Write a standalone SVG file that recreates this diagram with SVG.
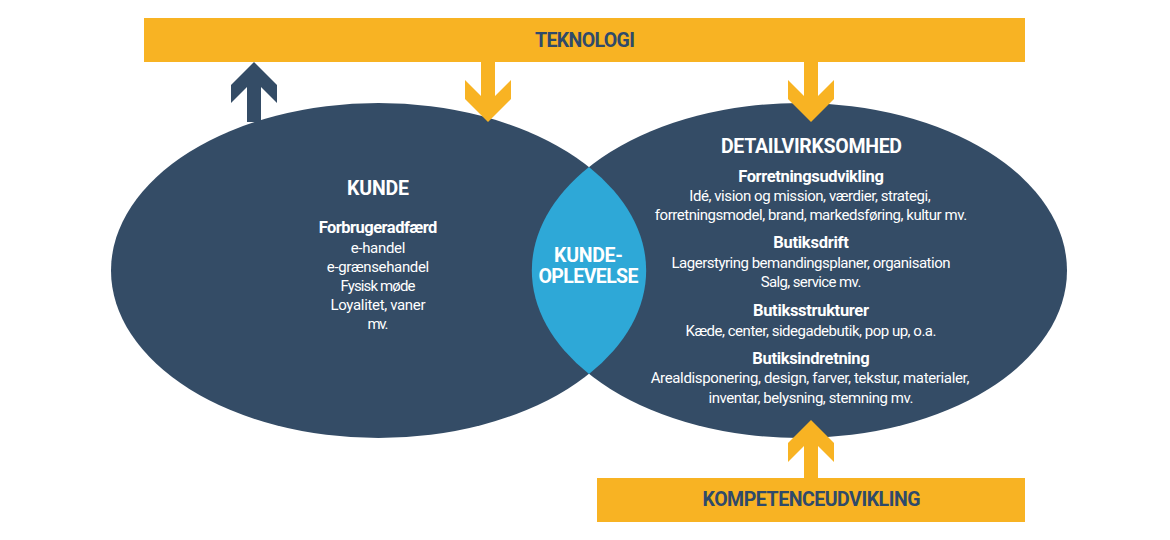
<svg xmlns="http://www.w3.org/2000/svg" width="1170" height="540" viewBox="0 0 1170 540">
<style>
.navy{fill:#344c66}
.yel{fill:#f8b323}
.lens{fill:#2ea8d7}
text{font-family:Roboto,"Liberation Sans",sans-serif;text-anchor:middle}
.h{font-weight:700;font-size:19.5px;fill:#ffffff}
.sh{font-weight:700;font-size:16.5px;fill:#ffffff}
.b{font-weight:400;font-size:15px;fill:#ffffff}
.bar{font-weight:700;font-size:19.5px;fill:#2f4a6a}
</style>
<rect width="1170" height="540" fill="#ffffff"/>
<g id="node-kunde">
<ellipse class="navy" cx="378.5" cy="270.5" rx="267.5" ry="167.5"/>
</g>
<g id="node-detailvirksomhed">
<ellipse class="navy" cx="799.5" cy="270.5" rx="267.5" ry="167.5"/>
</g>
<g id="node-kundeoplevelse">
<path class="lens" d="M589,167 A267.5,167.5 0 0,1 589,374 A267.5,167.5 0 0,1 589,167 Z"/>
<text class="h" x="588.5" y="261.7" textLength="69">KUNDE-</text>
<text class="h" x="588.5" y="282.7" textLength="100">OPLEVELSE</text>
</g>
<g id="text-kunde">
<text class="h" x="378" y="195.3" textLength="62">KUNDE</text>
<text class="sh" x="378" y="233.3" textLength="118.7">Forbrugeradfærd</text>
<text class="b" x="378" y="253" textLength="54.7">e-handel</text>
<text class="b" x="378" y="272" textLength="102.3">e-grænsehandel</text>
<text class="b" x="378" y="291.3" textLength="75">Fysisk møde</text>
<text class="b" x="378" y="310.3" textLength="95">Loyalitet, vaner</text>
<text class="b" x="378" y="329.3" textLength="21">mv.</text>
</g>
<g id="text-detail">
<text class="h" x="811.5" y="152.7" textLength="181">DETAILVIRKSOMHED</text>
<text class="sh" x="811" y="181.7" textLength="145.7">Forretningsudvikling</text>
<text class="b" x="810" y="200.7" textLength="241.3">Idé, vision og mission, værdier, strategi,</text>
<text class="b" x="811" y="219.7" textLength="312.3">forretningsmodel, brand, markedsføring, kultur mv.</text>
<text class="sh" x="811" y="248.3" textLength="75.7">Butiksdrift</text>
<text class="b" x="811" y="268.3" textLength="279">Lagerstyring bemandingsplaner, organisation</text>
<text class="b" x="811" y="287.3" textLength="100.7">Salg, service mv.</text>
<text class="sh" x="811" y="316" textLength="116">Butiksstrukturer</text>
<text class="b" x="811" y="335.7" textLength="251">Kæde, center, sidegadebutik, pop up, o.a.</text>
<text class="sh" x="811" y="364" textLength="117.3">Butiksindretning</text>
<text class="b" x="810" y="383.3" textLength="318.7">Arealdisponering, design, farver, tekstur, materialer,</text>
<text class="b" x="811" y="402.7" textLength="205">inventar, belysning, stemning mv.</text>
</g>
<g id="connectors">
<polygon class="navy" points="254,62 277,85 277,103 261,87 261,122 247,122 247,87 231,103 231,85"/>
<polygon class="yel" points="481,62 495,62 495,96 511,80 511,99 488,122 465,99 465,80 481,96"/>
<polygon class="yel" points="804,62 818,62 818,96 834,80 834,99 811,122 788,99 788,80 804,96"/>
<polygon class="yel" points="811,420 834,443 834,462 818,446 818,479 804,479 804,446 788,462 788,443"/>
</g>
<g id="node-teknologi">
<rect class="yel" x="144" y="18" width="881" height="44"/>
<text class="bar" x="585" y="46.7" textLength="100">TEKNOLOGI</text>
</g>
<g id="node-kompetenceudvikling">
<rect class="yel" x="597" y="478" width="428" height="44"/>
<text class="bar" x="811.5" y="506" textLength="218">KOMPETENCEUDVIKLING</text>
</g>
</svg>
